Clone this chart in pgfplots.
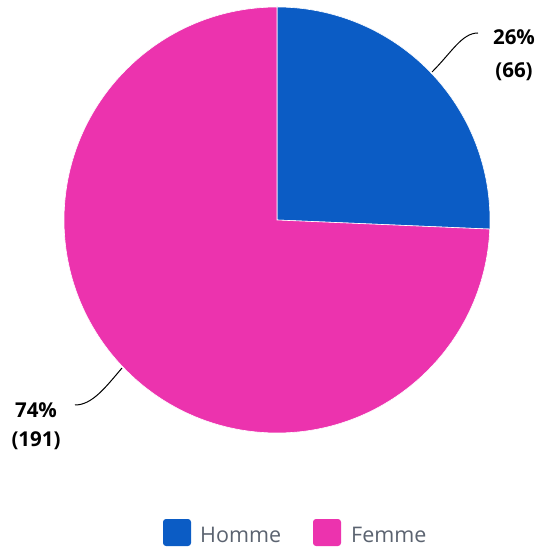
\documentclass[border=0pt]{standalone}
\usepackage{pgfplots}
\usepackage{pgfplotstable}
\pgfplotsset{compat=1.18}
\usepackage{fontspec}
\setmainfont{Open Sans}
\definecolor{cHomme}{HTML}{0B5CC5}
\definecolor{cFemme}{HTML}{EC33AE}
\definecolor{legtext}{HTML}{5B6370}
\pgfplotstableread{
label value
Homme 66
Femme 191
}\piedata
\begin{document}
\begin{tikzpicture}
\pgfplotstablegetelem{0}{value}\of\piedata \let\vA\pgfplotsretval
\pgfplotstablegetelem{1}{value}\of\piedata \let\vB\pgfplotsretval
\pgfmathsetmacro{\total}{\vA+\vB}
\pgfmathsetmacro{\angA}{\vA/\total*360}
\pgfmathsetmacro{\endA}{90-\angA}
\pgfmathtruncatemacro{\pA}{round(\vA/\total*100)}
\pgfmathtruncatemacro{\pB}{round(\vB/\total*100)}
\begin{axis}[
  name=ax,
  x=1pt, y=1pt, scale only axis,
  xmin=0, xmax=539, ymin=0, ymax=551,
  hide axis, clip=false,
]
\fill[cHomme, draw=white, line width=0.6pt] (axis cs:277,331) -- ++(90:213pt) arc[start angle=90, end angle=\endA, radius=213pt] -- cycle;
\fill[cFemme, draw=white, line width=0.6pt] (axis cs:277,331) -- ++(\endA:213pt) arc[start angle=\endA, end angle=-270, radius=213pt] -- cycle;
% leader lines
\draw[black, line width=1pt] (axis cs:432,479) .. controls (axis cs:452,499) and (axis cs:462,518) .. (axis cs:478,518);
\draw[black, line width=1pt] (axis cs:122,183) .. controls (axis cs:105,163) and (axis cs:92,146) .. (axis cs:75,146);
% labels
\node[font=\fontsize{20.5}{24}\selectfont\bfseries, anchor=center] at (axis cs:514,514) {\pA\%};
\node[font=\fontsize{20.5}{24}\selectfont\bfseries, anchor=center] at (axis cs:514,479) {(\vA)};
\node[font=\fontsize{20.5}{24}\selectfont\bfseries, anchor=center] at (axis cs:36,141) {\pB\%};
\node[font=\fontsize{20.5}{24}\selectfont\bfseries, anchor=center] at (axis cs:36,110) {(\vB)};
% legend
\fill[cHomme, rounded corners=3pt] (axis cs:163,5) rectangle (axis cs:191,32);
\node[anchor=west, text=legtext, font=\fontsize{21.5}{26}\selectfont, inner sep=0pt] at (axis cs:200,16) {Homme};
\fill[cFemme, rounded corners=3pt] (axis cs:313,5) rectangle (axis cs:341,32);
\node[anchor=west, text=legtext, font=\fontsize{21.5}{26}\selectfont, inner sep=0pt] at (axis cs:351,16) {Femme};
\end{axis}
\pgfresetboundingbox
\path[use as bounding box] (ax.south west) rectangle (ax.north east);
\end{tikzpicture}
\end{document}
